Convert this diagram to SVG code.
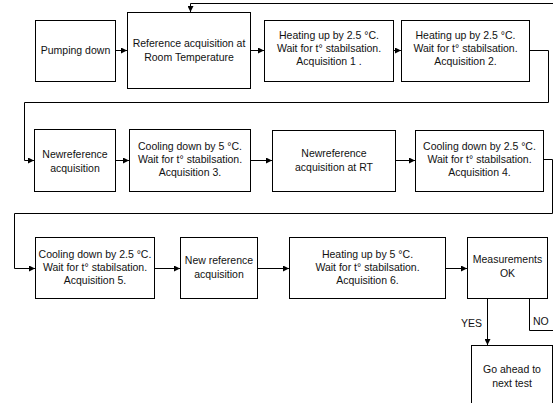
<svg xmlns="http://www.w3.org/2000/svg" width="553" height="403" viewBox="0 0 553 403">
<style>
.box{fill:#fff;stroke:#000;stroke-width:1}
.t{font-family:"Liberation Sans",Arial,sans-serif;font-size:10.5px;fill:#111;text-anchor:middle}
.l{font-family:"Liberation Sans",Arial,sans-serif;font-size:10.5px;fill:#111}
.c{fill:none;stroke:#000;stroke-width:1}
</style>
<defs>
<marker id="a" markerWidth="6" markerHeight="6" refX="6" refY="3" orient="auto" markerUnits="userSpaceOnUse">
<path d="M0,0 L6,3 L0,6 Z" fill="#000"/>
</marker>
</defs>
<rect width="553" height="403" fill="#fff"/>
<g id="connectors">
<path class="c" d="M115.5,50.5 H127" marker-end="url(#a)"/>
<path class="c" d="M250.5,50.5 H264" marker-end="url(#a)"/>
<path class="c" d="M393.5,50.5 H401" marker-end="url(#a)"/>
<path class="c" d="M553,3.5 H190.5 V12" marker-end="url(#a)"/>
<path class="c" d="M529,50.5 H548.5 V102.5 H24.5 V160.5 H34" marker-end="url(#a)"/>
<path class="c" d="M115.5,160.5 H129" marker-end="url(#a)"/>
<path class="c" d="M250.5,160.5 H272" marker-end="url(#a)"/>
<path class="c" d="M395.5,160.5 H415" marker-end="url(#a)"/>
<path class="c" d="M543,159.5 H552.5 V213.5 H14.5 V268.5 H35" marker-end="url(#a)"/>
<path class="c" d="M154.5,268.5 H180" marker-end="url(#a)"/>
<path class="c" d="M257.5,268.5 H289" marker-end="url(#a)"/>
<path class="c" d="M445.5,268.5 H467" marker-end="url(#a)"/>
<path class="c" d="M487.5,298 V345" marker-end="url(#a)"/>
<path class="c" d="M529.5,298 V330.5 H553"/>
<text class="l" x="461" y="327">YES</text>
<text class="l" x="533" y="325">NO</text>
</g>
<g id="pumping"><rect class="box" x="35.5" y="20.5" width="80" height="61"/><text class="t" x="75.5" y="54">Pumping down</text></g>
<g id="ref"><rect class="box" x="127.5" y="12.5" width="123" height="76"/><text class="t" x="189" y="47">Reference acquisition at</text><text class="t" x="189" y="61">Room Temperature</text></g>
<g id="heat1"><rect class="box" x="264.5" y="20.5" width="129" height="61"/><text class="t" x="329" y="39">Heating up by 2.5 °C.</text><text class="t" x="329" y="52">Wait for t° stabilsation.</text><text class="t" x="329" y="65">Acquisition 1 .</text></g>
<g id="heat2"><rect class="box" x="401.5" y="20.5" width="128" height="61"/><text class="t" x="465.5" y="39">Heating up by 2.5 °C.</text><text class="t" x="465.5" y="52">Wait for t° stabilsation.</text><text class="t" x="465.5" y="65">Acquisition 2.</text></g>
<g id="newref1"><rect class="box" x="34.5" y="129.5" width="81" height="62"/><text class="t" x="75" y="158">Newreference</text><text class="t" x="75" y="172">acquisition</text></g>
<g id="cool1"><rect class="box" x="129.5" y="129.5" width="121" height="62"/><text class="t" x="190" y="150">Cooling down by 5 °C.</text><text class="t" x="190" y="163">Wait for t° stabilsation.</text><text class="t" x="190" y="176">Acquisition 3.</text></g>
<g id="newrefrt"><rect class="box" x="272.5" y="130.5" width="123" height="61"/><text class="t" x="334" y="157">Newreference</text><text class="t" x="334" y="171">acquisition at RT</text></g>
<g id="cool2"><rect class="box" x="415.5" y="130.5" width="128" height="61"/><text class="t" x="479.5" y="150">Cooling down by 2.5 °C.</text><text class="t" x="479.5" y="163">Wait for t° stabilsation.</text><text class="t" x="479.5" y="176">Acquisition 4.</text></g>
<g id="cool3"><rect class="box" x="35.5" y="237.5" width="119" height="61"/><text class="t" x="95" y="258">Cooling down by 2.5 °C.</text><text class="t" x="95" y="271">Wait for t° stabilsation.</text><text class="t" x="95" y="284">Acquisition 5.</text></g>
<g id="newref2"><rect class="box" x="180.5" y="237.5" width="77" height="61"/><text class="t" x="219" y="264">New reference</text><text class="t" x="219" y="278">acquisition</text></g>
<g id="heat3"><rect class="box" x="289.5" y="237.5" width="156" height="61"/><text class="t" x="367.5" y="258">Heating up by 5 °C.</text><text class="t" x="367.5" y="271">Wait for t° stabilsation.</text><text class="t" x="367.5" y="284">Acquisition 6.</text></g>
<g id="meas"><rect class="box" x="467.5" y="237.5" width="80" height="61"/><text class="t" x="507.5" y="263">Measurements</text><text class="t" x="507.5" y="277">OK</text></g>
<g id="goahead"><rect class="box" x="471.5" y="345.5" width="81" height="70"/><text class="t" x="512" y="373">Go ahead to</text><text class="t" x="512" y="387">next test</text></g>
</svg>
